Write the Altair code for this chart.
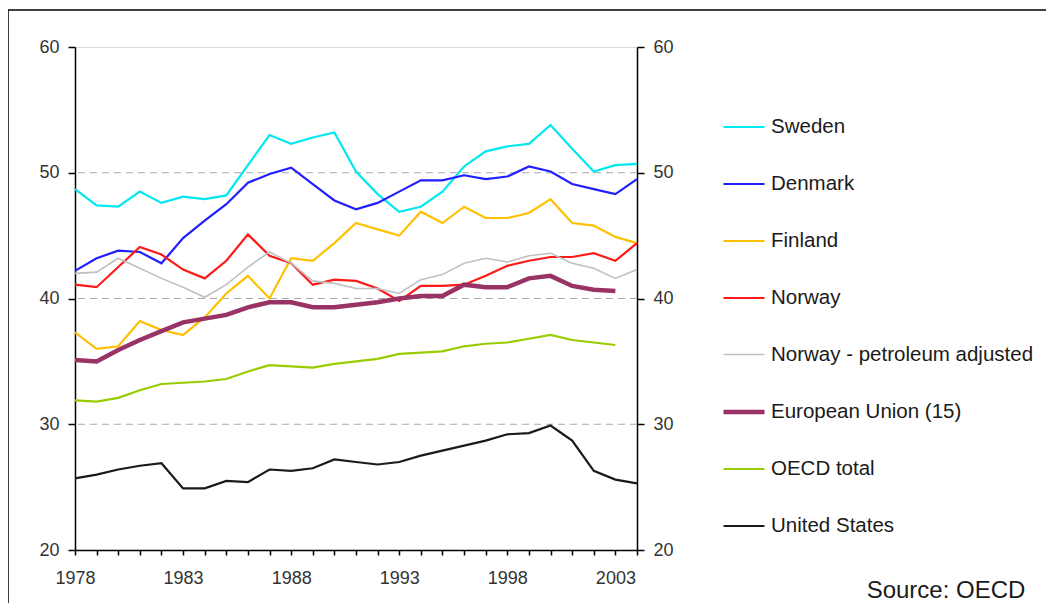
import altair as alt
import pandas as pd

years = list(range(1978, 2005))

series_names = ["Sweden", "Denmark", "Finland", "Norway", "Norway - petroleum adjusted",
                "European Union (15)", "OECD total", "United States"]
series_colors = ["#00E8F0", "#1F1FFF", "#FFC000", "#FF1A1A", "#C0C0C0",
                 "#993366", "#99CC00", "#1A1A1A"]
series_widths = [2.2, 2.2, 2.2, 2.2, 1.6, 4.5, 2.2, 2.2]

sweden = [48.7, 47.4, 47.3, 48.5, 47.6, 48.1, 47.9, 48.2, 50.6, 53.0, 52.3, 52.8, 53.2, 50.1,
          48.3, 46.9, 47.3, 48.5, 50.5, 51.7, 52.1, 52.3, 53.8, 51.9, 50.1, 50.6, 50.7]
denmark = [42.2, 43.2, 43.8, 43.7, 42.8, 44.8, 46.2, 47.5, 49.2, 49.9, 50.4, 49.1, 47.8, 47.1,
           47.6, 48.5, 49.4, 49.4, 49.8, 49.5, 49.7, 50.5, 50.1, 49.1, 48.7, 48.3, 49.5]
finland = [37.3, 36.0, 36.2, 38.2, 37.5, 37.1, 38.5, 40.4, 41.8, 40.0, 43.2, 43.0, 44.4, 46.0,
           45.5, 45.0, 46.9, 46.0, 47.3, 46.4, 46.4, 46.8, 47.9, 46.0, 45.8, 44.9, 44.4]
norway = [41.1, 40.9, 42.5, 44.1, 43.5, 42.3, 41.6, 43.0, 45.1, 43.4, 42.8, 41.1, 41.5, 41.4,
          40.8, 39.8, 41.0, 41.0, 41.1, 41.8, 42.6, 43.0, 43.3, 43.3, 43.6, 43.0, 44.4]
norway_pet = [42.0, 42.1, 43.2, 42.4, 41.6, 40.9, 40.1, 41.1, 42.5, 43.7, 42.8, 41.4, 41.2, 40.8,
              40.8, 40.4, 41.5, 41.9, 42.8, 43.2, 42.9, 43.4, 43.6, 42.8, 42.4, 41.6, 42.3]
eu15 = [35.1, 35.0, 35.9, 36.7, 37.4, 38.1, 38.4, 38.7, 39.3, 39.7, 39.7, 39.3, 39.3, 39.5,
        39.7, 40.0, 40.2, 40.2, 41.1, 40.9, 40.9, 41.6, 41.8, 41.0, 40.7, 40.6]
oecd = [31.9, 31.8, 32.1, 32.7, 33.2, 33.3, 33.4, 33.6, 34.2, 34.7, 34.6, 34.5, 34.8, 35.0,
        35.2, 35.6, 35.7, 35.8, 36.2, 36.4, 36.5, 36.8, 37.1, 36.7, 36.5, 36.3]
us = [25.7, 26.0, 26.4, 26.7, 26.9, 24.9, 24.9, 25.5, 25.4, 26.4, 26.3, 26.5, 27.2, 27.0,
      26.8, 27.0, 27.5, 27.9, 28.3, 28.7, 29.2, 29.3, 29.9, 28.7, 26.3, 25.6, 25.3]

y_ticks = [20, 30, 40, 50, 60]
grid_values = [30, 40, 50]

all_values = [sweden, denmark, finland, norway, norway_pet, eu15, oecd, us]
rows = []
for name, vals in zip(series_names, all_values):
    for yr, v in zip(years, vals):
        rows.append({"year": yr, "value": v, "series": name})
df = pd.DataFrame(rows)
grid_df = pd.DataFrame({"v": grid_values})

FONT = "Liberation Sans"
PW, PH = 562, 503

yscale = alt.Scale(domain=[20, 60], nice=False, zero=False)
xscale = alt.Scale(domain=[1978, 2004], nice=False, zero=False)

x_axis = alt.Axis(values=years, format="d", title=None, grid=False,
                  labelExpr="(datum.value - 1978) % 5 == 0 ? datum.label : ''",
                  tickSize=5, tickColor="black", domainColor="black", domainWidth=1.5,
                  tickWidth=1.5, labelFontSize=18, labelColor="#333333", labelFont=FONT,
                  labelPadding=14, labelFlush=False)

left_axis = alt.Axis(values=y_ticks, title=None, grid=False, orient="left",
                     tickSize=7, tickColor="black", domainColor="black", domainWidth=1.5,
                     tickWidth=1.5, labelFontSize=18, labelColor="#333333", labelFont=FONT,
                     labelPadding=9)
right_axis = alt.Axis(values=y_ticks, title=None, grid=False, orient="right",
                      tickSize=7, tickColor="black", domainColor="black", domainWidth=1.5,
                      tickWidth=1.5, labelFontSize=18, labelColor="#333333", labelFont=FONT,
                      labelPadding=9)

legend = alt.Legend(title=None, orient="none", legendX=646, legendY=58,
                    symbolType="stroke", symbolSize=1681,
                    labelFontSize=20.5, labelFont=FONT, labelColor="#1a1a1a",
                    labelOffset=4, rowPadding=24, padding=0, labelLimit=400)

grid = alt.Chart(grid_df).mark_rule(color="#A8A8A8", strokeDash=[7, 5], strokeWidth=1.2).encode(
    y=alt.Y("v:Q", scale=yscale, axis=right_axis)
)

lines = alt.Chart(df).mark_line().encode(
    x=alt.X("year:Q", scale=xscale, axis=x_axis),
    y=alt.Y("value:Q", scale=yscale, axis=left_axis),
    color=alt.Color("series:N", scale=alt.Scale(domain=series_names, range=series_colors),
                    sort=series_names, legend=legend),
    strokeWidth=alt.StrokeWidth("series:N",
                                scale=alt.Scale(type="ordinal", domain=series_names,
                                                range=series_widths),
                                sort=series_names, legend=legend),
    detail="series:N",
)

note_df = pd.DataFrame({"t": ["Source: OECD"]})
source = alt.Chart(note_df).mark_text(font=FONT, fontSize=24, color="#1a1a1a",
                                      align="center", baseline="middle").encode(
    text="t:N", x=alt.value(871), y=alt.value(544)
)
frame = alt.Chart(note_df).mark_rect(fill=None, stroke="black", strokeWidth=1.5).encode(
    x=alt.value(-67), y=alt.value(-37), x2=alt.value(1100), y2=alt.value(620)
)

chart = alt.layer(grid, lines, source, frame).resolve_axis(y="independent").properties(
    width=PW, height=PH,
    autosize=alt.AutoSizeParams(type="none"),
    padding={"left": 67, "top": 39, "right": 409, "bottom": 53},
).configure_view(stroke="black", strokeWidth=1.5).configure(background="white")

chart.save("out.html", embed_options={"renderer": "svg", "actions": False})
